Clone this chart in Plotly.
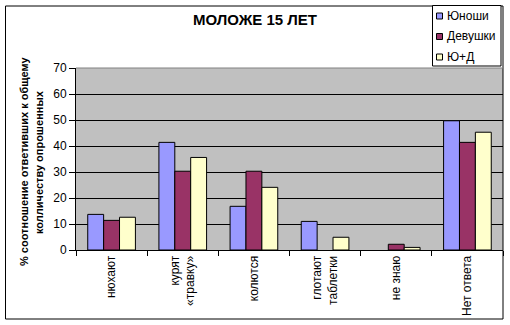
import plotly.graph_objects as go

categories = ["нюхают", "курят<br>«травку»", "колются", "глотают<br>таблетки", "не знаю", "Нет ответа"]
series_names = ["Юноши", "Девушки", "Ю+Д"]
boys = [13.7, 41.4, 16.8, 11.0, 0, 49.7]
girls = [11.4, 30.3, 30.3, 0, 2.2, 41.4]
both = [12.6, 35.6, 24.1, 4.9, 1.0, 45.3]
colors = ["#9999FF", "#993366", "#FFFFCC"]
title_text = "МОЛОЖЕ 15 ЛЕТ"
ytitle_lines = ["% соотношение ответивших к общему", "колличеству опрошенных"]

W, H = 510, 325
L, R, T, B = 76, 7, 68, 75
PW, PH = W - L - R, H - T - B

def xp(px):
    return (px - L) / PW

def yp(py):
    return (H - B - py) / PH

FONT = "Liberation Sans, Arial, sans-serif"

fig = go.Figure()
for name, vals, col in zip(series_names, [boys, girls, both], colors):
    fig.add_trace(go.Bar(x=categories, y=vals, name=name,
                         marker=dict(color=col,
                                     line=dict(color="black", width=[1 if v > 0 else 0 for v in vals])),
                         showlegend=False))

shapes = []
annotations = []
# outer chart border
shapes.append(dict(type="rect", xref="paper", yref="paper",
                   x0=xp(5.5), x1=xp(503), y0=yp(319), y1=yp(6),
                   line=dict(color="black", width=1), fillcolor="rgba(0,0,0,0)", layer="above"))
# plot area top border (gray)
shapes.append(dict(type="line", xref="paper", yref="paper", x0=0, x1=1, y0=1, y1=1,
                   line=dict(color="#808080", width=1), layer="above"))
# legend box
shapes.append(dict(type="rect", xref="paper", yref="paper",
                   x0=xp(432.5), x1=xp(501), y0=yp(66), y1=yp(5.5),
                   line=dict(color="black", width=1), fillcolor="white", layer="above"))
leg_y = [16, 36.5, 57]
for name, col, cy in zip(series_names, colors, leg_y):
    shapes.append(dict(type="rect", xref="paper", yref="paper",
                       x0=xp(436.5), x1=xp(442.5), y0=yp(cy + 3), y1=yp(cy - 3),
                       line=dict(color="black", width=1), fillcolor=col, layer="above"))
    annotations.append(dict(text=name, xref="paper", yref="paper", x=xp(444.5), y=yp(cy),
                            xanchor="left", yanchor="middle", showarrow=False,
                            font=dict(family=FONT, size=12, color="black")))

# y-axis title (two lines)
for line_text, cx in zip(ytitle_lines, [24, 39]):
    annotations.append(dict(text="<b>" + line_text + "</b>", xref="paper", yref="paper",
                            x=xp(cx), y=yp(162), xanchor="center", yanchor="middle",
                            textangle=-90, showarrow=False,
                            font=dict(family=FONT, size=11, color="black")))

fig.update_layout(
    width=W, height=H,
    margin=dict(l=L, r=R, t=T, b=B, pad=0),
    paper_bgcolor="white", plot_bgcolor="#C0C0C0",
    barmode="group", bargap=0.33, bargroupgap=0,
    title=dict(text="<b>" + title_text + "</b>", x=0.5, xref="container", xanchor="center",
               y=1 - 20 / H, yref="container", yanchor="middle",
               font=dict(family=FONT, size=15, color="black")),
    shapes=shapes, annotations=annotations,
    xaxis=dict(showline=True, linecolor="black", linewidth=1, ticks="outside",
               tickson="boundaries", ticklen=5, tickcolor="black", tickangle=-90,
               tickfont=dict(family=FONT, size=12, color="black"), showgrid=False),
    yaxis=dict(range=[0, 70], dtick=10, showgrid=True, gridcolor="black", gridwidth=1,
               showline=True, linecolor="black", linewidth=1, ticks="outside", ticklen=6,
               tickcolor="black", zeroline=False,
               tickfont=dict(family=FONT, size=12, color="black")),
)

fig.write_html("out.html")
